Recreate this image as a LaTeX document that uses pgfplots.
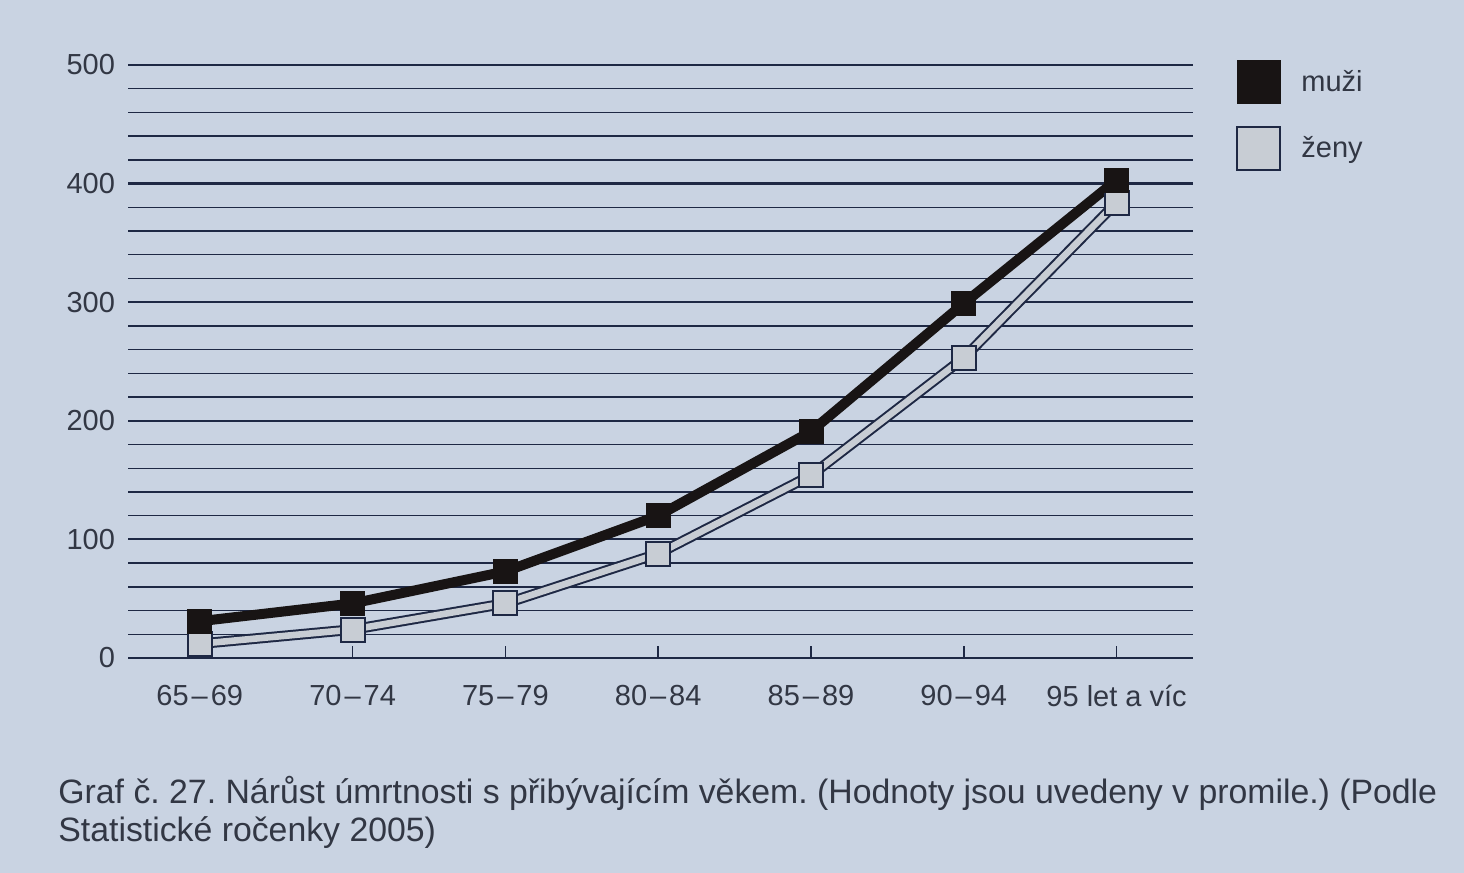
\documentclass[border=0pt]{standalone}
\usepackage{pgfplots}
\pgfplotsset{compat=1.18}
\usepackage{fontspec}
\setmainfont{Liberation Sans}
\definecolor{paper}{RGB}{201,211,226}
\definecolor{ink}{RGB}{30,40,68}
\definecolor{txt}{RGB}{50,55,68}
\definecolor{zfill}{RGB}{200,205,212}
\definecolor{mblack}{RGB}{24,20,20}
\newcommand{\dd}{\kern1.5bp--\kern1.5bp}
\begin{document}
\frenchspacing
\begin{tikzpicture}
\path[use as bounding box, fill=paper] (0,0) rectangle (732bp,436.5bp);
\begin{axis}[
  scale only axis, width=532.5bp, height=296.5bp,
  at={(64bp,107.5bp)}, anchor=south west,
  xmin=-0.47, xmax=6.5, ymin=0, ymax=500,
  axis x line*=bottom, axis y line*=left,
  x axis line style={-, ink, line width=1.1bp},
  y axis line style={draw=none},
  xtick={0,...,6},
  xticklabels={65\dd69,70\dd74,75\dd79,80\dd84,85\dd89,90\dd94,95 let a víc},
  xtick align=inside, major tick length=6bp,
  x tick style={ink, line width=0.8bp},
  ytick={0,100,...,500}, minor y tick num=4,
  y tick style={draw=none},
  ymajorgrids, yminorgrids,
  major grid style={ink, line width=1.1bp},
  minor grid style={ink, line width=0.7bp},
  /pgf/number format/assume math mode=true,
  tick label style={font=\fontsize{14.5bp}{16bp}\selectfont, text=txt},
  xticklabel style={yshift=-10bp},
  yticklabel style={xshift=-3bp},
  legend style={at={(1,1)}, anchor=north west, xshift=21.5bp, yshift=2.5bp,
    draw=none, fill=none, font=\fontsize{14.5bp}{16bp}\selectfont, text=txt,
    row sep=11bp, inner sep=0pt,
    /tikz/every odd column/.append style={column sep=8bp}},
  legend cell align=left,
  clip=false,
]
\addlegendimage{legend image code/.code={\draw[fill=mblack, draw=mblack] (0bp,-10.75bp) rectangle (21.5bp,10.75bp);}}
\addlegendimage{legend image code/.code={\draw[fill=zfill, draw=ink, line width=1bp] (0bp,-10.75bp) rectangle (21.5bp,10.75bp);}}
\legend{muži, ženy}
\addplot[forget plot, ink, line width=5.3bp] coordinates {(0,12) (1,24) (2,46) (3,88) (4,154) (5,253) (6,384)};
\addplot[forget plot, zfill, line width=3.3bp, mark=square*, mark size=6bp,
  mark options={fill=zfill, draw=ink, line width=1bp}] coordinates {(0,12) (1,24) (2,46) (3,88) (4,154) (5,253) (6,384)};
\addplot[forget plot, mblack, line width=5bp, mark=square*, mark size=6bp,
  mark options={fill=mblack, draw=mblack, line width=0.5bp}] coordinates {(0,31) (1,46) (2,73) (3,120) (4,191) (5,299) (6,403)};
\end{axis}
\node[anchor=base west, font=\fontsize{16.9bp}{18bp}\selectfont, text=txt, inner sep=0pt] at (29bp,35bp) {Graf č. 27. Nárůst úmrtnosti s přibývajícím věkem. (Hodnoty jsou uvedeny v promile.) (Podle};
\node[anchor=base west, font=\fontsize{16.9bp}{18bp}\selectfont, text=txt, inner sep=0pt] at (29bp,16bp) {Statistické ročenky 2005)};
\end{tikzpicture}
\end{document}
